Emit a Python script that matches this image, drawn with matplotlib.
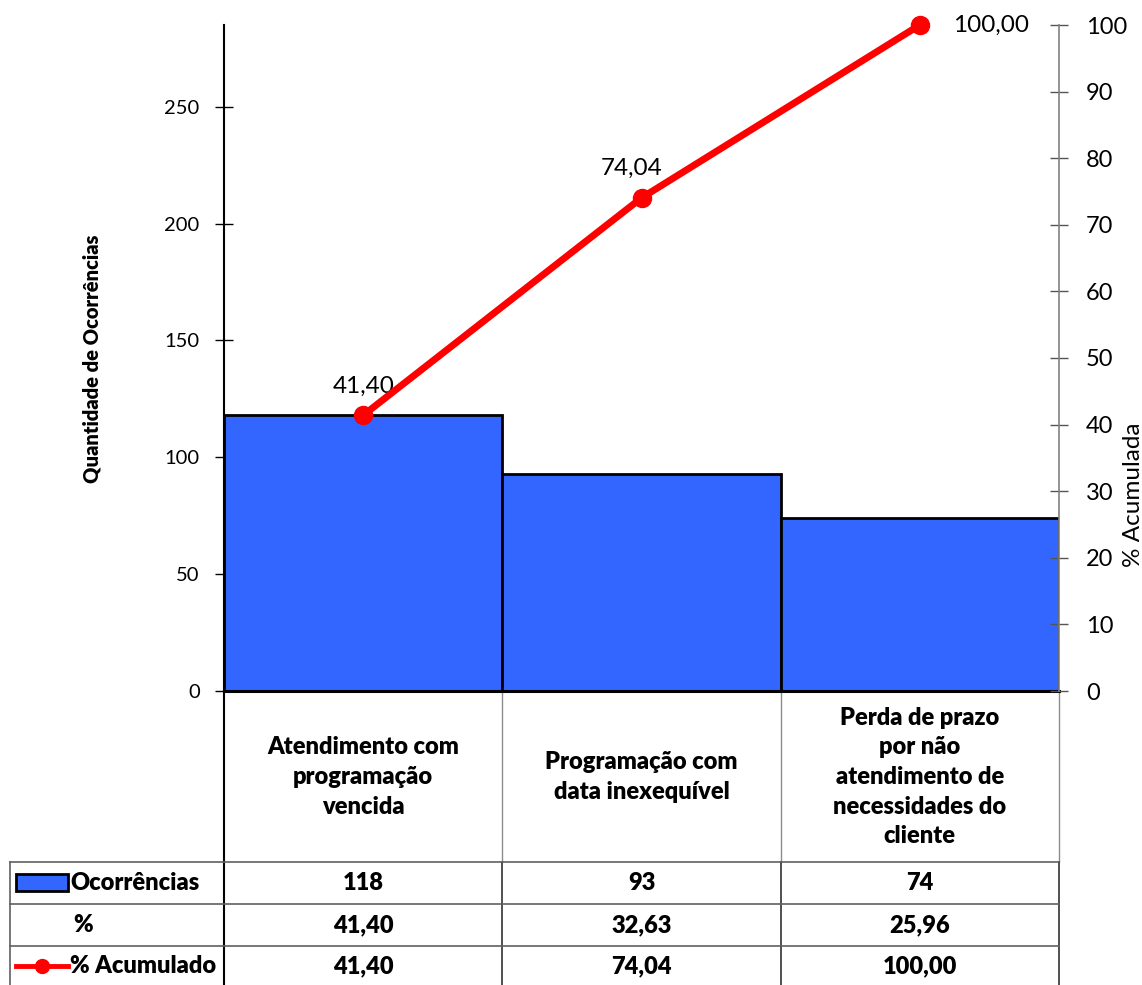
import matplotlib
matplotlib.use("Agg")
import matplotlib.pyplot as plt
import matplotlib.transforms as mtransforms
from matplotlib.patches import Rectangle

plt.rcParams['font.family'] = ['Lato', 'DejaVu Sans']

# Pareto data: occurrences per cause
categories = [
    "Atendimento com\nprogramação\nvencida",
    "Programação com\ndata inexequível",
    "Perda de prazo\npor não\natendimento de\nnecessidades do\ncliente",
]
ocorrencias = [118, 93, 74]
percentual = [41.40, 32.63, 25.96]
acumulado = [41.40, 74.04, 100.00]
left_ticks = [0, 50, 100, 150, 200, 250]
right_ticks = list(range(0, 101, 10))
row_labels = ["Ocorrências", "%", "% Acumulado"]

BAR_COLOR = "#3366FF"
LINE_COLOR = "#FF0000"
W, H = 1142, 985
BODY = 17

fig = plt.figure(figsize=(W / 100, H / 100), dpi=100)

def fx(px):
    return px / W

def fy(py):
    return 1 - py / H

# pixel-space overlay for the category strip and the data table
ov = fig.add_axes([0, 0, 1, 1], zorder=0)
ov.set_xlim(0, W)
ov.set_ylim(H, 0)
ov.axis("off")
ov.patch.set_alpha(0)

ax = fig.add_axes([fx(224), fy(691), fx(1059) - fx(224), fy(25) - fy(691)], zorder=2)
ax.patch.set_alpha(0)
x = list(range(len(categories)))
ax.bar(x, ocorrencias, width=1.0, color=BAR_COLOR, edgecolor="black", linewidth=2, zorder=2)
ax.set_xlim(-0.5, len(categories) - 0.5)
ax.set_ylim(0, sum(ocorrencias))
ax.set_yticks(left_ticks)
ax.set_xticks([])
ax.tick_params(axis="y", direction="inout", length=13, width=1, pad=11, labelsize=14.5)
for s in ("top", "right"):
    ax.spines[s].set_visible(False)
ax.spines["left"].set_linewidth(1.5)
ax.spines["bottom"].set_linewidth(2.2)

ax2 = ax.twinx()
ax2.set_ylim(0, 100)
ax2.set_yticks(right_ticks)
ax2.tick_params(axis="y", direction="inout", length=13, width=1, pad=13, labelsize=17,
                color="#555555")
for s in ("top", "left", "bottom"):
    ax2.spines[s].set_visible(False)
ax2.spines["right"].set_color("#808080")
ax2.spines["right"].set_linewidth(1.2)
ax2.plot(x, acumulado, color=LINE_COLOR, linewidth=5, marker="o", markersize=13,
         zorder=5, clip_on=False)

fmt = lambda v: f"{v:.2f}".replace(".", ",")
label_offsets = [(0, 21), (-7, 21), (24, 0)]
label_ha = ["center", "center", "left"]
for xi, v, off, ha in zip(x, acumulado, label_offsets, label_ha):
    ax2.annotate(fmt(v), (xi, v), xytext=off, textcoords="offset points",
                 ha=ha, va="center", fontsize=17.5)

# axis titles
ov.text(92, 359, "Quantidade de Ocorrências", rotation=90, ha="center", va="center",
        fontsize=14.5, fontweight="heavy")
ov.text(1133, 495, "% Acumulada", rotation=90, ha="center", va="center", fontsize=17.5)

# category strip and table grid
col_tr = mtransforms.blended_transform_factory(ax.transData, ov.transData)
edges = [xi - 0.5 for xi in x] + [x[-1] + 0.5]
for i, e in enumerate(edges):
    if i == 0:
        ov.plot([e, e], [691, 985], color="black", lw=1.5, transform=col_tr, clip_on=False)
    else:
        ov.plot([e, e], [691, 862], color="#8c8c8c", lw=1, transform=col_tr, clip_on=False)
        ov.plot([e, e], [862, 985], color="#202020", lw=1.1, transform=col_tr, clip_on=False)
for yy in (862, 904, 946):
    ov.plot([10, 1059], [yy, yy], color="#606060", lw=1.2)
ov.plot([10, 10], [862, 985], color="#606060", lw=1.2)

for xi, cat in zip(x, categories):
    ov.text(xi, 777, cat, transform=col_tr, ha="center", va="center", fontsize=BODY,
            fontweight="heavy", linespacing=1.42)

row_y = [883, 925, 966]
rows = [[str(v) for v in ocorrencias], [fmt(v) for v in percentual], [fmt(v) for v in acumulado]]
for yy, vals in zip(row_y, rows):
    for xi, t in zip(x, vals):
        ov.text(xi, yy, t, transform=col_tr, ha="center", va="center", fontsize=BODY,
                fontweight="heavy")

# row headers with legend keys
ov.add_patch(Rectangle((16, 874), 52, 17, facecolor=BAR_COLOR, edgecolor="black", lw=2))
ov.text(70, row_y[0], row_labels[0], ha="left", va="center", fontsize=BODY, fontweight="heavy")
ov.text(83, row_y[1], row_labels[1], ha="center", va="center", fontsize=BODY, fontweight="heavy")
ov.plot([16, 68], [row_y[2], row_y[2]], color=LINE_COLOR, lw=3.5)
ov.plot([42], [row_y[2]], "o", color=LINE_COLOR, markersize=10)
ov.text(70, row_y[2], row_labels[2], ha="left", va="center", fontsize=BODY, fontweight="heavy")

fig.savefig("out.png", dpi=100)
